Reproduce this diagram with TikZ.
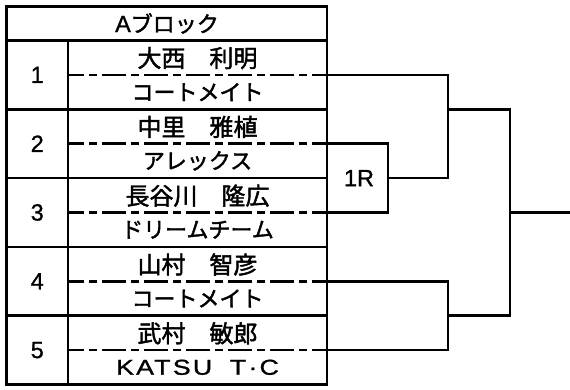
\documentclass[tikz,border=0pt]{standalone}
\usepackage{fontspec}
\setmainfont[FakeBold=1]{Liberation Sans}
\newfontfamily\jp[FakeBold=1.8]{Noto Sans CJK JP}
\newfontfamily\widelat[FakeBold=1.2,FakeStretch=1.25,LetterSpace=10]{Liberation Sans}

\begin{document}
\begin{tikzpicture}[x=1pt,y=-1pt,line width=2.6pt,
    numtext/.style={inner sep=0pt,font=\fontsize{23.5}{24}\selectfont},
    nametext/.style={inner sep=0pt,font=\jp\fontsize{24}{24}\selectfont},
    teamtext/.style={inner sep=0pt,font=\jp\fontsize{22}{22}\selectfont},
    dashdot/.style={line width=2.5pt,dash pattern=on 24pt off 5pt on 8pt off 5pt,dash phase=8pt},
    bracket/.style={line width=2.5pt}]
    \useasboundingbox (0,0) rectangle (570,390);
    \draw (6.5,6.5) rectangle (327,384.5);
    \draw (6.5,40.5) -- (327,40.5);
    \draw (68,40.5) -- (68,384.5);
    \node[numtext] (head) at (167,23.5) {A{\jp\fontsize{22}{22}\selectfont ブロック}};
    \foreach \i/\nm/\tm in {1/大西　利明/コートメイト,2/中里　雅植/アレックス,3/長谷川　隆広/ドリームチーム,4/山村　智彦/コートメイト,5/武村　敏郎/{\fontsize{21.5}{21.5}\widelat\selectfont KATSU\hspace{8pt} T·C}}{
      \pgfmathsetmacro\rowtop{40.5+68.8*(\i-1)}
      \draw (6.5,\rowtop) -- (327,\rowtop);
      \draw[dashdot] (68,{\rowtop+34.4}) -- (327,{\rowtop+34.4});
      \node[numtext] (num\i) at (37.25,{\rowtop+34.4}) {\i};
      \node[nametext] (player\i) at (197.5,{\rowtop+17.6}) {\nm};
      \node[teamtext] (team\i) at (197.5,{\rowtop+51.6}) {\tm};
      \coordinate (p\i) at (327,{\rowtop+34.4});
    }
    \coordinate (w1) at (388,178.1);
    \coordinate (s1) at (448,109.3);
    \coordinate (s2) at (448,315.7);
    \coordinate (f) at (510,212.5);
    \coordinate (out) at (570,212.5);
    \node[numtext] (round1) at (359,178.1) {1R};
    \draw[bracket] (p2) -| (w1) |- (p3);
    \draw[bracket] (p1) -| (s1) |- (w1);
    \draw[bracket] (p4) -| (s2) |- (p5);
    \draw[bracket] (s1) -| (f) |- (s2);
    \draw[bracket] (f) -- (out);
\end{tikzpicture}
\end{document}
